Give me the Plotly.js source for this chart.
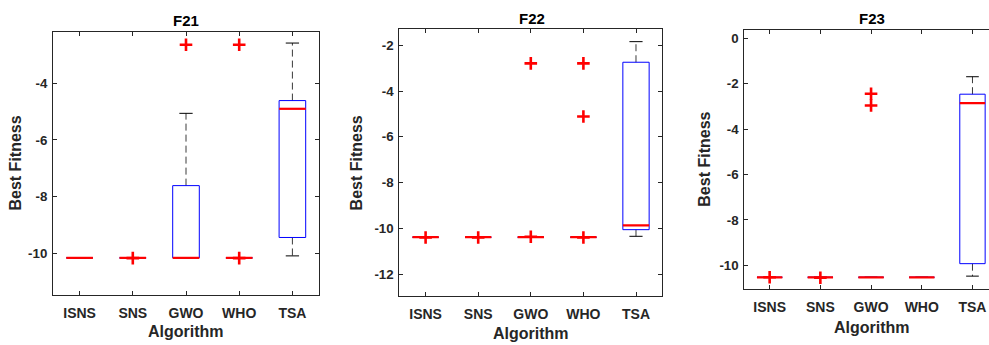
<!DOCTYPE html>
<html>
<head>
<meta charset="utf-8">
<script src="https://cdn.plot.ly/plotly-3.0.1.min.js"></script>
<style>html,body{margin:0;padding:0;background:#fff;}#chart{width:989px;height:345px;}</style>
</head>
<body>
<div id="chart"></div>
<script>
// ---- Data ----
const categories = ['ISNS', 'SNS', 'GWO', 'WHO', 'TSA'];
const panelTitles = ['F21', 'F22', 'F23'];

const f21Q1       = [-10.16, -10.16, -10.16, -10.16, -9.44];
const f21Median   = [-10.16, -10.16, -10.16, -10.16, -4.90];
const f21Q3       = [-10.16, -10.16, -7.61, -10.16, -4.61];
const f21Lower    = [-10.16, -10.16, -10.16, -10.16, -10.09];
const f21Upper    = [-10.16, -10.16, -5.06, -10.16, -2.58];
const f21Outliers = [[], [-10.17], [-2.64], [-2.64, -10.17], []];

const f22Q1       = [-10.39, -10.39, -10.39, -10.39, -10.06];
const f22Median   = [-10.39, -10.39, -10.39, -10.39, -9.87];
const f22Q3       = [-10.39, -10.39, -10.39, -10.39, -2.74];
const f22Lower    = [-10.39, -10.39, -10.39, -10.39, -10.35];
const f22Upper    = [-10.39, -10.39, -10.39, -10.39, -1.84];
const f22Outliers = [[-10.40], [-10.40], [-2.79, -10.37], [-2.79, -5.11, -10.40], []];

const f23Q1       = [-10.53, -10.53, -10.53, -10.53, -9.93];
const f23Median   = [-10.53, -10.53, -10.53, -10.53, -2.85];
const f23Q3       = [-10.53, -10.53, -10.53, -10.53, -2.46];
const f23Lower    = [-10.53, -10.53, -10.53, -10.53, -10.48];
const f23Upper    = [-10.53, -10.53, -10.53, -10.53, -1.69];
const f23Outliers = [[-10.53], [-10.55], [-2.44, -2.96], [], []];

const yTicks = [[-10, -8, -6, -4], [-12, -10, -8, -6, -4, -2], [-10, -8, -6, -4, -2, 0]];
const yRanges = [[-11.47, -2.19], [-12.96, -1.30], [-11.06, 0.37]];

// ---- Layout geometry (pixels) ----
const W = 989, H = 345;
const geom = [
  {l: 53, r: 319, t: 32, b: 295, xr: [0.5, 5.5], title: [186, 20], yl: [15, 163.5], xl: [186, 331.7]},
  {l: 399.3, r: 662.3, t: 29.3, b: 296, xr: [0.5, 5.5], title: [531.7, 18.3], yl: [356.7, 162.7], xl: [531, 333]},
  {l: 744.3, r: 989, t: 30, b: 289.3, xr: [0.5, 5.326], title: [871.7, 19], yl: [705, 159.7], xl: [872, 327]}
];

const panels = [
  {q1: f21Q1, med: f21Median, q3: f21Q3, lo: f21Lower, up: f21Upper, out: f21Outliers},
  {q1: f22Q1, med: f22Median, q3: f22Q3, lo: f22Lower, up: f22Upper, out: f22Outliers},
  {q1: f23Q1, med: f23Median, q3: f23Q3, lo: f23Lower, up: f23Upper, out: f23Outliers}
];

const BW = 0.25, CW = 0.125;
const traces = [];
const layout = {
  width: W, height: H,
  margin: {l: 0, r: 0, t: 0, b: 0},
  paper_bgcolor: '#ffffff', plot_bgcolor: '#ffffff',
  showlegend: false,
  annotations: []
};
const fam = 'Liberation Sans, Arial, sans-serif';
const yFont = {family: fam, size: 13.3, color: '#262626', weight: 'bold'};
const xFont = {family: fam, size: 14, color: '#262626', weight: 'bold'};

panels.forEach((p, k) => {
  const xa = k === 0 ? 'x' : 'x' + (k + 1);
  const ya = k === 0 ? 'y' : 'y' + (k + 1);
  const bx = [], by = [], wx = [], wy = [], cx = [], cy = [], mx = [], my = [], ox = [], oy = [];
  categories.forEach((c, i) => {
    const x = i + 1;
    bx.push(x - BW, x + BW, x + BW, x - BW, x - BW, null);
    by.push(p.q1[i], p.q1[i], p.q3[i], p.q3[i], p.q1[i], null);
    wx.push(x, x, null, x, x, null);
    wy.push(p.q3[i], p.up[i], null, p.q1[i], p.lo[i], null);
    cx.push(x - CW, x + CW, null, x - CW, x + CW, null);
    cy.push(p.up[i], p.up[i], null, p.lo[i], p.lo[i], null);
    mx.push(x - BW, x + BW, null);
    my.push(p.med[i], p.med[i], null);
    p.out[i].forEach(v => { ox.push(x); oy.push(v); });
  });
  const base = {type: 'scatter', xaxis: xa, yaxis: ya, hoverinfo: 'skip', cliponaxis: false};
  traces.push(Object.assign({}, base, {x: wx, y: wy, mode: 'lines', line: {color: '#3a3a3a', width: 1, dash: '7px,4px'}}));
  traces.push(Object.assign({}, base, {x: cx, y: cy, mode: 'lines', line: {color: '#000000', width: 1}}));
  traces.push(Object.assign({}, base, {x: bx, y: by, mode: 'lines', line: {color: '#0000ff', width: 1}}));
  traces.push(Object.assign({}, base, {x: mx, y: my, mode: 'lines', line: {color: '#ff0000', width: 2.2}}));
  traces.push(Object.assign({}, base, {x: ox, y: oy, mode: 'markers',
    marker: {symbol: 'cross-thin', size: 9, color: '#ff0000', line: {color: '#ff0000', width: 2.6}}}));

  const g = geom[k];
  const axCommon = {
    showline: true, linecolor: '#262626', linewidth: 1,
    ticks: 'inside', ticklen: 4, tickwidth: 1, tickcolor: '#262626',
    showgrid: false, zeroline: false, fixedrange: true
  };
  layout['xaxis' + (k === 0 ? '' : k + 1)] = Object.assign({}, axCommon, {
    domain: [g.l / W, Math.min(1, g.r / W)], anchor: ya, range: g.xr, tickfont: xFont,
    tickmode: 'array', tickvals: categories.map((c, i) => i + 1), ticktext: categories,
    mirror: 'ticks', ticklabelstandoff: 5
  });
  layout['yaxis' + (k === 0 ? '' : k + 1)] = Object.assign({}, axCommon, {
    domain: [1 - g.b / H, 1 - g.t / H], anchor: xa, range: yRanges[k], tickfont: yFont,
    tickmode: 'array', tickvals: yTicks[k], ticktext: yTicks[k].map(v => String(v)),
    mirror: k === 2 ? false : 'ticks', ticklabelstandoff: 2
  });
  layout.annotations.push(
    {text: panelTitles[k], xref: 'paper', yref: 'paper', x: g.title[0] / W, y: 1 - g.title[1] / H,
     xanchor: 'center', yanchor: 'middle', showarrow: false,
     font: {family: fam, size: 15, color: '#000000', weight: 'bold'}},
    {text: 'Best Fitness', xref: 'paper', yref: 'paper', x: g.yl[0] / W, y: 1 - g.yl[1] / H,
     xanchor: 'center', yanchor: 'middle', showarrow: false, textangle: -90,
     font: {family: fam, size: 16, color: '#262626', weight: 'bold'}},
    {text: 'Algorithm', xref: 'paper', yref: 'paper', x: g.xl[0] / W, y: 1 - g.xl[1] / H,
     xanchor: 'center', yanchor: 'middle', showarrow: false,
     font: {family: fam, size: 16, color: '#262626', weight: 'bold'}}
  );
});

Plotly.newPlot('chart', traces, layout, {staticPlot: true, displayModeBar: false});
</script>
</body>
</html>
